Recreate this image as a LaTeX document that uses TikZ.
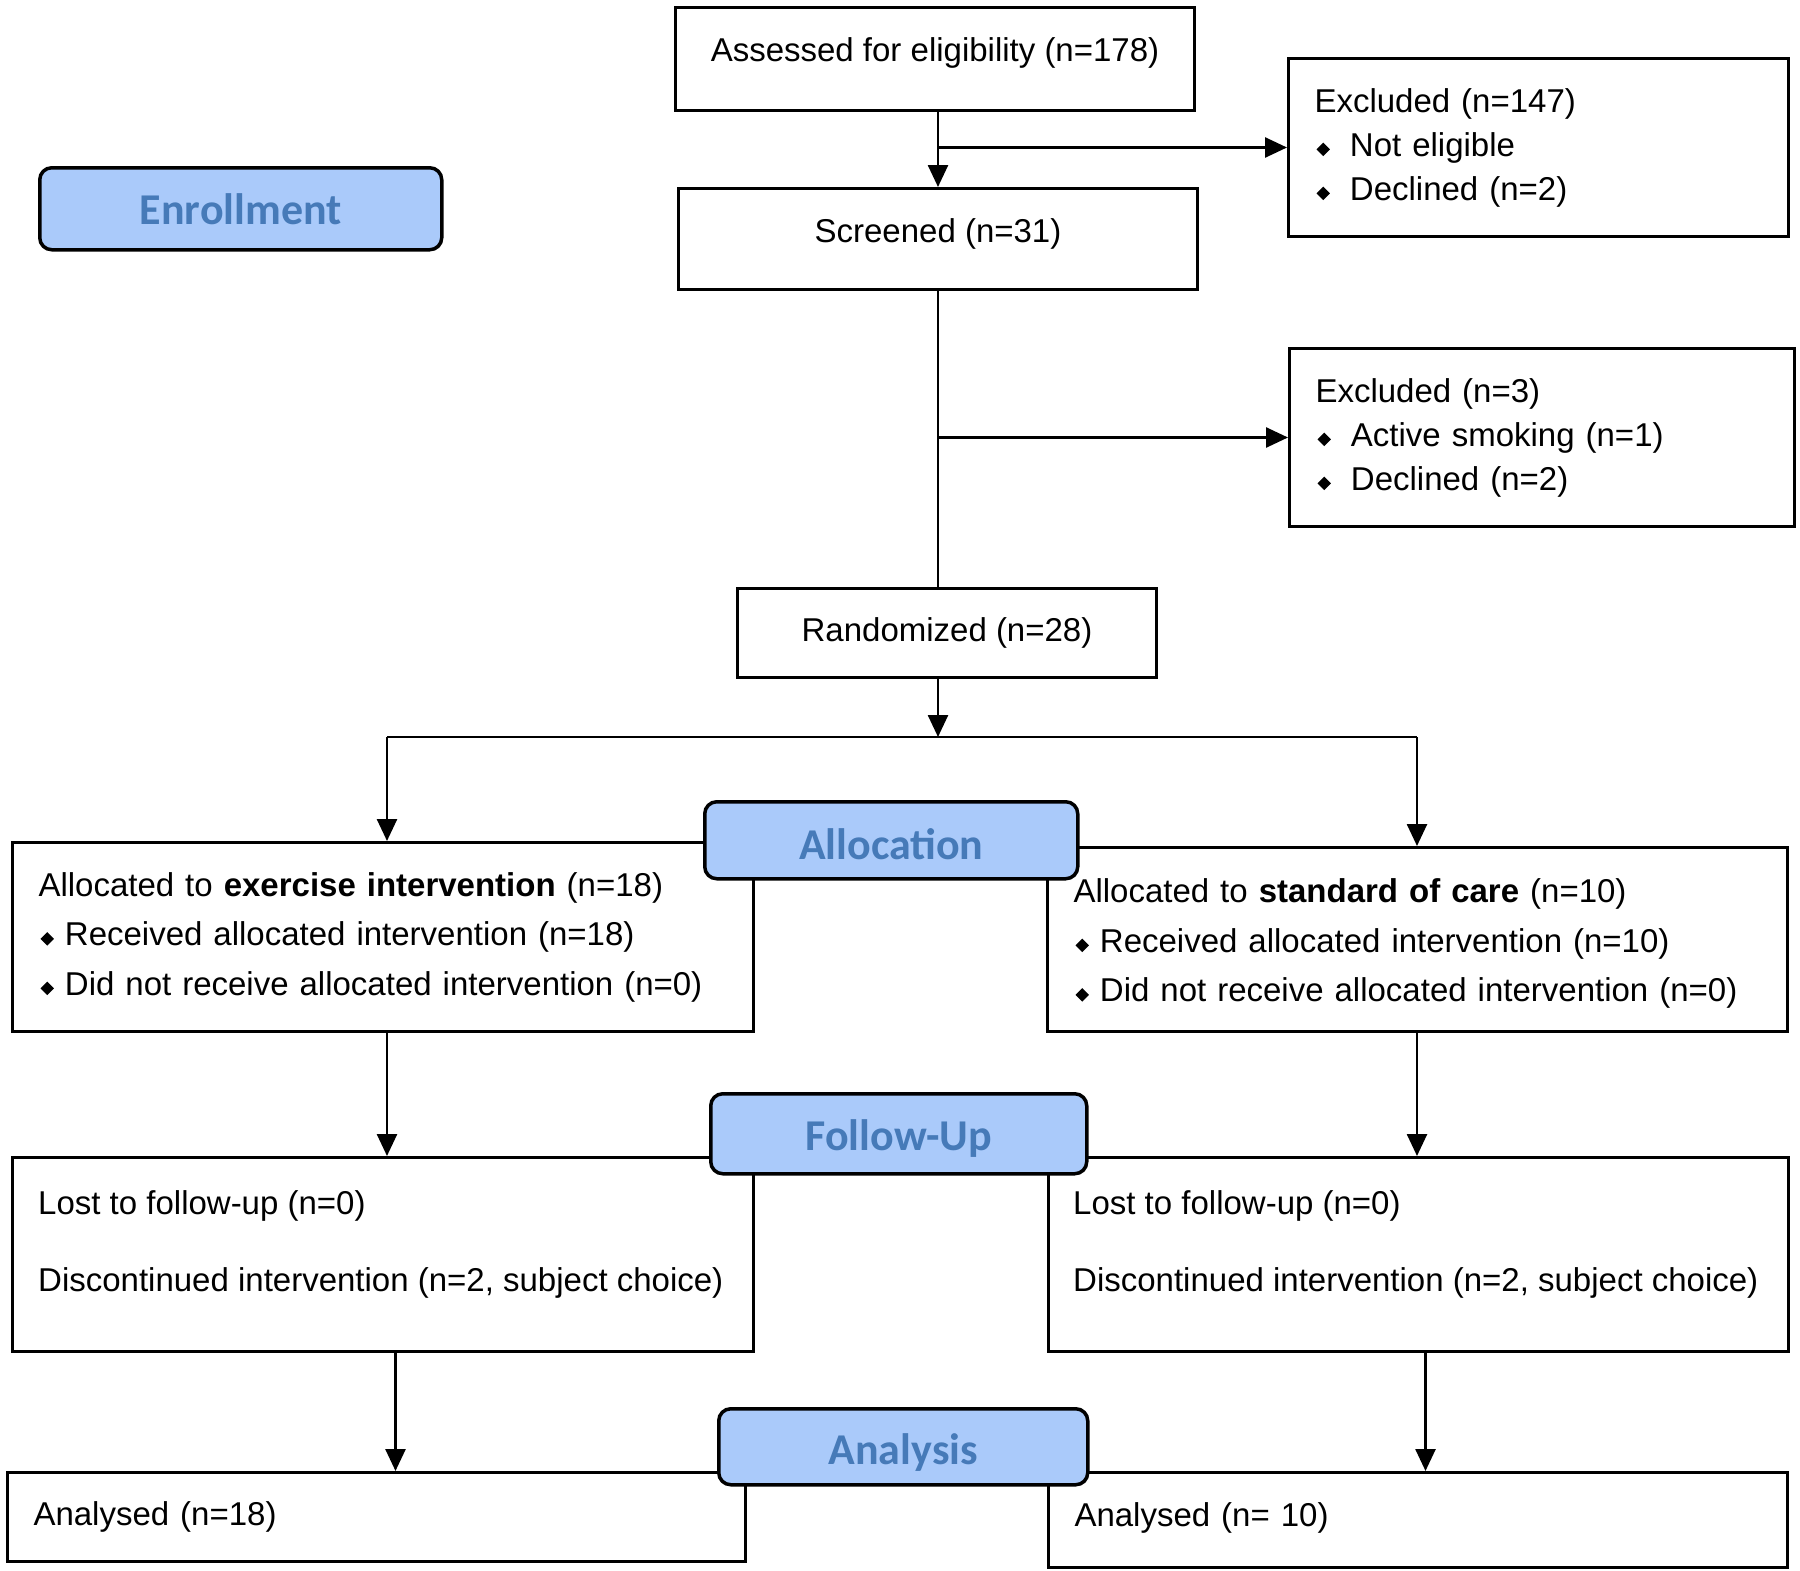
\documentclass[tikz,border=0pt]{standalone}
\usepackage{fontspec}
\setmainfont{Liberation Sans}
\newfontfamily\labfont{Carlito}
\usetikzlibrary{arrows.meta,calc}
\definecolor{labfill}{RGB}{170,202,250}
\definecolor{labtext}{RGB}{70,122,184}
\newcommand{\dbul}[1]{\hspace*{2pt}\rotatebox{45}{\rule{9.5pt}{9.5pt}}\hspace{#1}}
\newcommand{\upby}[2]{\raisebox{#1}[\height][\depth]{#2}}
\begin{document}
\begin{tikzpicture}[x=1pt,y=-1pt,
  box/.style={draw=black, line width=3pt, rectangle, inner sep=0pt, anchor=north west,
    font=\fontsize{33}{44}\selectfont},
  lbox/.style={box, align=left, inner xsep=26pt},
  txt/.style={inner sep=0pt, anchor=west, align=left, font=\fontsize{33}{44}\selectfont},
  stage/.style={draw=black, line width=3.5pt, fill=labfill, rounded corners=12pt, text=labtext,
    font=\labfont\bfseries\fontsize{44}{44}\selectfont, anchor=north west, inner sep=0pt},
  conn/.style={line width=2.6pt},
  arr/.style={conn, -{Triangle[length=22pt,width=20pt]}}
]
\useasboundingbox (0,0) rectangle (1800,1571);

% enrollment
\node[box, minimum width=519pt, minimum height=103pt] (assess) at (674,6) {\upby{6pt}{Assessed for eligibility (n=178)}};
\node[lbox, text width=448pt, minimum height=178pt] (excl1) at (1287,57)
  {Excluded (n=147)\\ \dbul{20pt}Not eligible\\ \dbul{20pt}Declined (n=2)};
\node[box, minimum width=519pt, minimum height=101pt] (screen) at (677,187) {\upby{5pt}{Screened (n=31)}};
\node[lbox, text width=453pt, minimum height=178pt] (excl2) at (1288,347)
  {Excluded (n=3)\\ \dbul{20pt}Active smoking (n=1)\\ \dbul{20pt}Declined (n=2)};
\node[box, minimum width=419pt, minimum height=89pt] (rand) at (736,587) {Randomized (n=28)};

% allocation
\node[lbox, text width=689pt, minimum height=189pt, font=\fontsize{33}{49.5}\selectfont] (la) at (11,841)
  {Allocated to \textbf{exercise intervention} (n=18)\\ \dbul{11pt}Received allocated intervention (n=18)\\ \dbul{11pt}Did not receive allocated intervention (n=0)};
\node[lbox, text width=688pt, minimum height=184pt, font=\fontsize{33}{49.5}\selectfont] (ra) at (1046,846)
  {\upby{-4pt}{Allocated to \textbf{standard of care} (n=10)}\\ \upby{-4pt}{\dbul{11pt}Received allocated intervention (n=10)}\\ \upby{-4pt}{\dbul{11pt}Did not receive allocated intervention (n=0)}};

% follow-up
\node[box, minimum width=741pt, minimum height=194pt] (lf) at (11,1156) {};
\node[txt] (lft) at (38,1244) {Lost to follow-up (n=0)\\[33pt]Discontinued intervention (n=2, subject choice)};
\node[box, minimum width=740pt, minimum height=194pt] (rf) at (1047,1156) {};
\node[txt] (rft) at (1073,1244) {Lost to follow-up (n=0)\\[33pt]Discontinued intervention (n=2, subject choice)};

% analysis
\node[lbox, text width=686pt, minimum height=89pt] (lan) at (6,1471) {Analysed (n=18)};
\node[lbox, text width=687pt, minimum height=95pt] (ran) at (1047,1471) {\upby{2pt}{Analysed (n= 10)}};

% connectors
\coordinate (split) at (938,737);
\coordinate (sl) at (387,737);
\coordinate (sr) at (1417,737);
\draw[arr] (assess.south -| screen.north) -- (screen.north);
\draw[arr] (excl1.west -| screen.north) -- (excl1.west);
\draw[conn] (screen.south) -- (screen.south |- rand.north);
\draw[arr] (excl2.west -| screen.south) -- (excl2.west);
\draw[arr] (rand.south -| split) -- (split);
\draw[conn] (sl) -- (sr);
\draw[arr] (sl) -- (sl |- la.north);
\draw[arr] (sr) -- (sr |- ra.north);
\draw[arr] (la.south -| sl) -- (lf.north -| sl);
\draw[arr] (ra.south -| sr) -- (rf.north -| sr);
\draw[arr] ([xshift=12.5pt]lf.south) -- ([xshift=12.5pt]lf.south |- lan.north);
\draw[arr] ([xshift=7pt]rf.south) -- ([xshift=7pt]rf.south |- ran.north);

% stage labels
\node[stage, minimum width=402pt, minimum height=82pt] (enroll) at (38,166) {Enrollment};
\node[stage, minimum width=373pt, minimum height=77pt] (alloc) at (703,800) {\upby{-4pt}{Allocation}};
\node[stage, minimum width=376pt, minimum height=80pt] (fu) at (709,1092) {\upby{-5pt}{Follow-Up}};
\node[stage, minimum width=369pt, minimum height=76pt] (an) at (717,1407) {\upby{-6pt}{Analysis}};
\end{tikzpicture}
\end{document}
